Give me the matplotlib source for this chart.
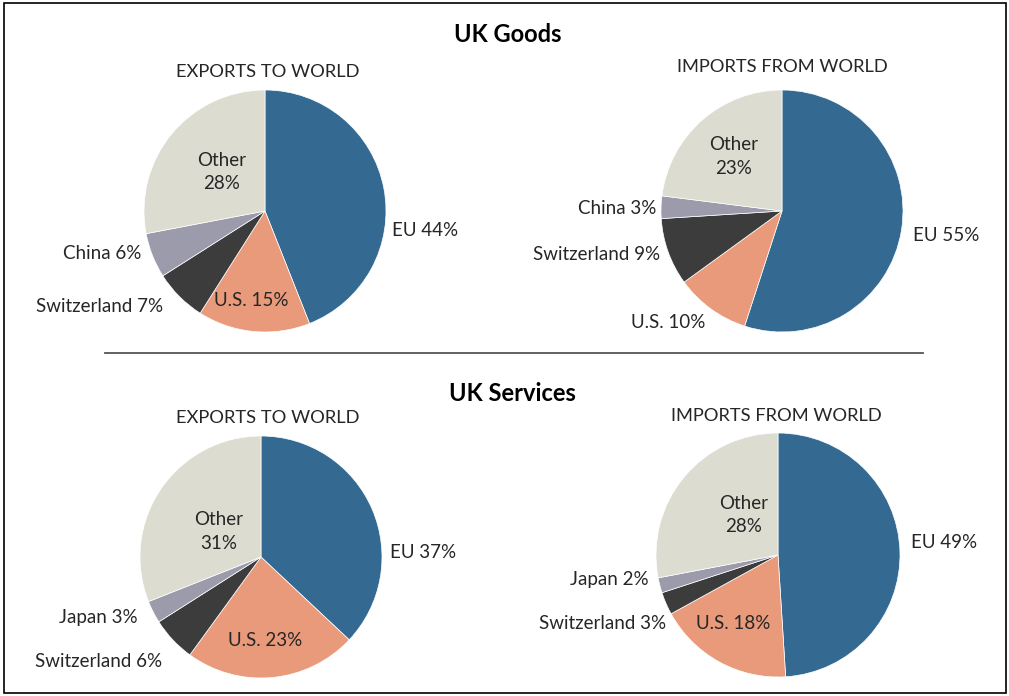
import matplotlib
matplotlib.use("Agg")
import matplotlib.pyplot as plt
from matplotlib.patches import Rectangle
from matplotlib.lines import Line2D

plt.rcParams["font.family"] = ["Lato", "DejaVu Sans"]

# data
goods_labels = ["EU", "U.S.", "Switzerland", "China", "Other"]
goods_exports = [44, 15, 7, 6, 28]
goods_imports = [55, 10, 9, 3, 23]
serv_labels = ["EU", "U.S.", "Switzerland", "Japan", "Other"]
serv_exports = [37, 23, 6, 3, 31]
serv_imports = [49, 18, 3, 2, 28]

colors = ["#346a92", "#e99a7b", "#3c3c3c", "#9c9bac", "#dcdcd0"]

W, H = 1009, 696
fig = plt.figure(figsize=(W / 100, H / 100), dpi=100)

# label placement (in pie radius units) for EU, U.S., Switzerland, China/Japan, Other
layouts = [
    # (center x px, center y px, radius px, title, title x, title y, label positions)
    (265, 211, 121, "EXPORTS TO WORLD", 268, 72,
     [(1.05, -0.16, "left"), (-0.11, -0.74, "center"), (-0.84, -0.79, "right"),
      (-1.02, -0.35, "right"), (-0.36, 0.32, "center")]),
    (782, 211, 121, "IMPORTS FROM WORLD", 782, 67,
     [(1.08, -0.20, "left"), (-0.63, -0.92, "right"), (-1.01, -0.36, "right"),
      (-1.04, 0.02, "right"), (-0.40, 0.45, "center")]),
    (261, 557, 121, "EXPORTS TO WORLD", 268, 418,
     [(1.07, 0.04, "left"), (0.03, -0.69, "center"), (-0.82, -0.86, "right"),
      (-1.02, -0.50, "right"), (-0.35, 0.21, "center")]),
    (778, 555, 122, "IMPORTS FROM WORLD", 776, 416,
     [(1.09, 0.10, "left"), (-0.37, -0.56, "center"), (-0.92, -0.56, "right"),
      (-1.06, -0.20, "right"), (-0.28, 0.33, "center")]),
]
series = [(goods_labels, goods_exports), (goods_labels, goods_imports),
          (serv_labels, serv_exports), (serv_labels, serv_imports)]

for (cx, cy, r, title, tx, ty, pos), (labs, vals) in zip(layouts, series):
    ax = fig.add_axes([(cx - r) / W, 1 - (cy + r) / H, 2 * r / W, 2 * r / H])
    ax.pie(vals, colors=colors, startangle=90, counterclock=False, radius=1,
           wedgeprops=dict(edgecolor="white", linewidth=0.5))
    ax.set_xlim(-1, 1)
    ax.set_ylim(-1, 1)
    ax.set_aspect("equal")
    ax.axis("off")
    for lab, v, (x, y, ha) in zip(labs, vals, pos):
        txt = f"{lab}\n{v}%" if lab == "Other" else f"{lab} {v}%"
        ax.text(x, y, txt, ha=ha, va="center", fontsize=13.5, color="#262626",
                linespacing=1.45)
    fig.text(tx / W, 1 - ty / H, title, ha="center", va="center",
             fontsize=13.2, color="#262626")

fig.text(508 / W, 1 - 34 / H, "UK Goods", ha="center", va="center",
         fontsize=17, fontweight="bold", color="black")
fig.text(512 / W, 1 - 393 / H, "UK Services", ha="center", va="center",
         fontsize=17, fontweight="bold", color="black")

# separator line
fig.add_artist(Line2D([105 / W, 923 / W], [1 - 353 / H, 1 - 353 / H],
                      color="#555555", linewidth=1.3))

# frame
fig.add_artist(Rectangle((4 / W, 1 - 693 / H), 1002 / W, 690 / H,
                         fill=False, edgecolor="black", linewidth=1.2))

fig.savefig("out.png", dpi=100)
